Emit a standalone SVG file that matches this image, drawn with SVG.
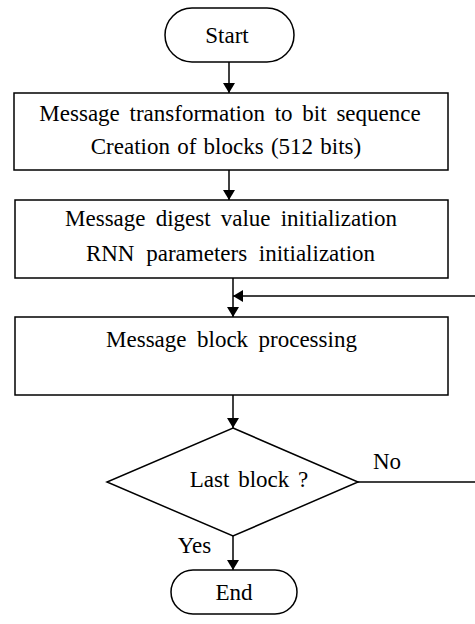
<svg xmlns="http://www.w3.org/2000/svg" width="475" height="624" viewBox="0 0 475 624">
<defs>
<marker id="ah" viewBox="0 0 10 12" refX="10" refY="6" markerWidth="10" markerHeight="12" markerUnits="userSpaceOnUse" orient="auto">
<path d="M0,0 L10,6 L0,12 Z" fill="#000"/>
</marker>
</defs>
<style>
.sh{fill:#fff;stroke:#000;stroke-width:1.5}
.t{font-family:'Liberation Serif','Times New Roman',serif;font-size:23px;fill:#000;text-anchor:middle}
.c{fill:none;stroke:#000;stroke-width:1.5}
</style>
<rect width="475" height="624" fill="#fff"/>
<g id="connectors">
<path class="c" d="M229,62 V93" marker-end="url(#ah)"/>
<path class="c" d="M229,170 V200" marker-end="url(#ah)"/>
<path class="c" d="M233,278 V317" marker-end="url(#ah)"/>
<path class="c" d="M480,296 H233" marker-end="url(#ah)"/>
<path class="c" d="M233,395 V428" marker-end="url(#ah)"/>
<path class="c" d="M358,482 H480"/>
<path class="c" d="M233,536 V570" marker-end="url(#ah)"/>
<text class="t" x="387" y="469">No</text>
<text class="t" x="194.5" y="553">Yes</text>
</g>
<g id="start">
<rect class="sh" x="165" y="8" width="129" height="54" rx="27" ry="27"/>
<text class="t" x="227" y="43">Start</text>
</g>
<g id="box1">
<rect class="sh" x="14" y="93" width="434" height="77"/>
<text class="t" x="230" y="121" word-spacing="4">Message transformation to bit sequence</text>
<text class="t" x="226" y="154" word-spacing="1.5">Creation of blocks (512 bits)</text>
</g>
<g id="box2">
<rect class="sh" x="15" y="200" width="433" height="78"/>
<text class="t" x="231" y="226" word-spacing="4.4">Message digest value initialization</text>
<text class="t" x="230.5" y="261" word-spacing="6">RNN parameters initialization</text>
</g>
<g id="box3">
<rect class="sh" x="15" y="317" width="433" height="78"/>
<text class="t" x="231.5" y="347" word-spacing="4.7">Message block processing</text>
</g>
<g id="decision">
<polygon class="sh" points="233,428 358,482 233,536 107,482"/>
<text class="t" x="249" y="487" word-spacing="3">Last block ?</text>
</g>
<g id="end">
<rect class="sh" x="171" y="570" width="126" height="44" rx="22" ry="22"/>
<text class="t" x="234" y="600">End</text>
</g>
</svg>
